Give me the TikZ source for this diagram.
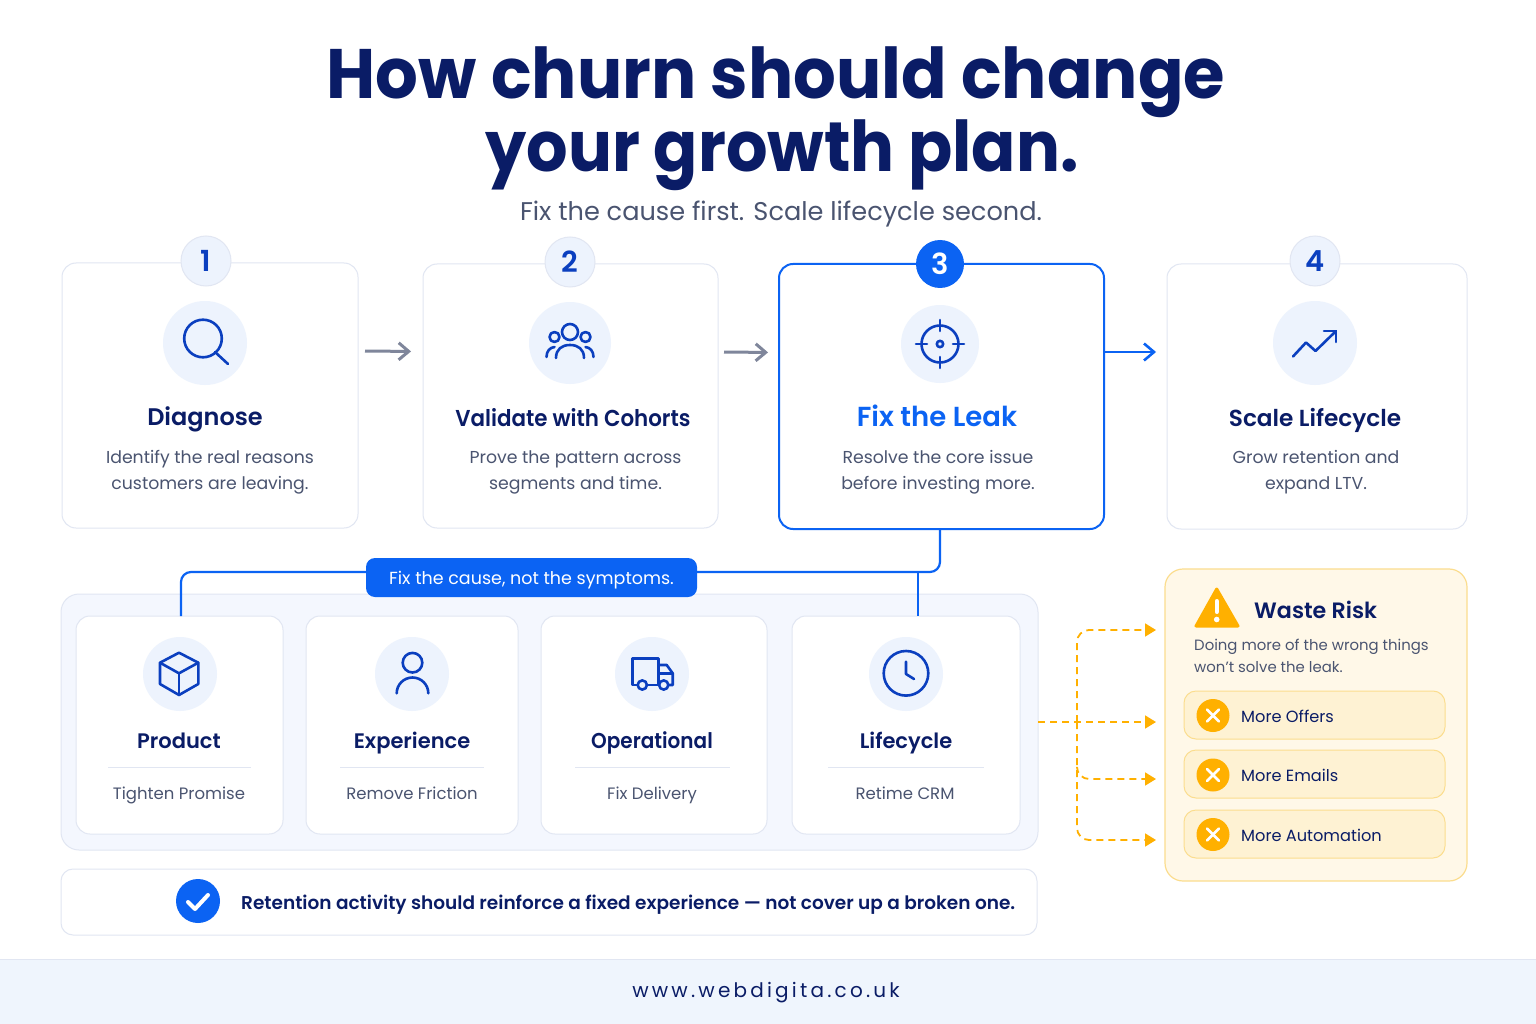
\documentclass[tikz,border=0pt]{standalone}
\usepackage{fontspec}
\setmainfont{Poppins}
\newfontfamily\semifont{Poppins SemiBold}
\newfontfamily\narrowfont[FakeStretch=0.93]{Poppins SemiBold}
\newfontfamily\headfont[FakeStretch=0.96]{Poppins}
\newfontfamily\headtight[FakeStretch=0.932]{Poppins}
\usetikzlibrary{arrows.meta}
\definecolor{navy}{HTML}{0A1C66}
\definecolor{ink}{HTML}{4A5470}
\definecolor{brand}{HTML}{0B63F3}
\definecolor{iconblue}{HTML}{0B3FBF}
\definecolor{mist}{HTML}{EDF3FD}
\definecolor{edge}{HTML}{E1E6F2}
\definecolor{panelfill}{HTML}{F4F7FE}
\definecolor{amber}{HTML}{FFB000}
\definecolor{cream}{HTML}{FFF8E8}
\definecolor{butter}{HTML}{FEF2D3}
\definecolor{sand}{HTML}{FBDD8E}
\definecolor{footfill}{HTML}{EFF5FD}
\definecolor{grayarrow}{HTML}{7F869B}

\begin{document}
\begin{tikzpicture}[x=1pt, y=-1pt,
  card/.style = {draw=edge, fill=white, line width=1pt, rounded corners=14pt, inner sep=0pt, outer sep=0pt},
  hotcard/.style = {draw=brand, fill=white, line width=2pt, rounded corners=14pt, inner sep=0pt, outer sep=0pt},
  numdot/.style = {shape=circle, draw=edge, fill=mist, line width=1pt, minimum size=50pt, inner sep=0pt, text=iconblue, font=\fontsize{29}{29}\semifont},
  hotdot/.style = {shape=circle, fill=brand, minimum size=48pt, inner sep=0pt, text=white, font=\fontsize{29}{29}\semifont},
  halo/.style = {shape=circle, fill=mist, inner sep=0pt},
  headline/.style = {anchor=mid, text=navy, font=\fontsize{70}{70}\headfont\bfseries},
  steptitle/.style = {anchor=mid, text=navy, font=\fontsize{24}{24}\semifont},
  stepdesc/.style = {align=center, text=ink, inner sep=0pt, font=\fontsize{17.3}{26}\selectfont},
  subtitle/.style = {anchor=mid, text=navy, font=\fontsize{21}{21}\semifont},
  subdesc/.style = {anchor=mid, text=ink, font=\fontsize{16.5}{16.5}\selectfont},
  rule/.style = {draw=edge, line width=1pt},
  glyph/.style = {draw=iconblue, line width=2.6pt, line cap=round, line join=round},
  wire/.style = {draw=brand, line width=2.2pt},
  flow/.style = {line width=3pt, -{Straight Barb[length=10pt,width=17pt]}},
  risk/.style = {draw=amber, line width=1.8pt, dash pattern=on 7pt off 5pt, -{Triangle[length=11pt,width=13pt]}},
  riskrow/.style = {draw=sand, fill=butter, line width=1pt, rounded corners=12pt, minimum width=261pt, minimum height=48pt, inner sep=0pt, outer sep=0pt},
  crossdot/.style = {shape=circle, fill=amber, minimum size=33pt, inner sep=0pt},
  crossmark/.style = {draw=white, line width=2.6pt, line cap=round},
  rowtext/.style = {anchor=mid west, text=navy, inner sep=0pt, font=\fontsize{16.2}{16.2}\selectfont}]

  \useasboundingbox (0,0) rectangle (1536,1024);
  \fill[white] (0,0) rectangle (1536,1024);

  % heading
  \node[headline] (headone) at (776,96) {How churn should change};
  \node[headline, font=\fontsize{70}{70}\headtight\bfseries] (headtwo) at (782,169) {your growth plan.};
  \node[anchor=mid, text=ink, font=\fontsize{25.6}{25.6}\selectfont] (tagline) at (781,218) {Fix the cause first. Scale lifecycle second.};

  % the four steps
  \node[card, minimum width=296pt, minimum height=265pt] (diagnose) at (210,395.5) {};
  \node[card, minimum width=295pt, minimum height=264pt] (validate) at (570.5,396) {};
  \node[hotcard, minimum width=325pt, minimum height=265pt] (fixleak) at (941.5,396.5) {};
  \node[card, minimum width=300pt, minimum height=265pt] (scale) at (1317,396.5) {};

  \node[numdot] (one) at (206,261) {1};
  \node[numdot] (two) at (570,262) {2};
  \node[hotdot] (three) at (940,264) {3};
  \node[numdot] (four) at (1315,261) {4};

  \node[halo, minimum size=84pt] (lens) at (205,343) {};
  \node[halo, minimum size=82pt] (crowd) at (570,343) {};
  \node[halo, minimum size=78pt] (aim) at (940,344) {};
  \node[halo, minimum size=84pt] (trend) at (1315,343) {};

  \draw[glyph] (203,338.5) circle (18.8);
  \draw[glyph] (215,352) -- (228,364);

  \draw[glyph] (570,332) circle (8);
  \draw[glyph] (554.5,337) circle (5);
  \draw[glyph] (585.5,337) circle (5);
  \draw[glyph] (556,358) .. controls (556,349) and (562,345) .. (570,345) .. controls (578,345) and (584,349) .. (584,358);
  \draw[glyph] (546.5,357) .. controls (546.5,351) and (550,347.5) .. (554.5,347);
  \draw[glyph] (593.5,357) .. controls (593.5,351) and (590,347.5) .. (585.5,347);

  \draw[glyph] (940,344) circle (18.5);
  \draw[glyph] (940,344) circle (3.2);
  \draw[glyph] (940,320) -- (940,331);
  \draw[glyph] (940,357) -- (940,368);
  \draw[glyph] (916,344) -- (927,344);
  \draw[glyph] (953,344) -- (964,344);

  \draw[glyph] (1293,356.5) -- (1306,342.5) -- (1315.5,351) -- (1336,331);
  \draw[glyph] (1324,331) -- (1336,331) -- (1336,342);

  \node[steptitle] (diagnosetitle) at (205,423) {Diagnose};
  \node[steptitle, font=\fontsize{23}{23}\narrowfont] (validatetitle) at (573,424) {Validate with Cohorts};
  \node[steptitle, text=brand, font=\fontsize{27.5}{27.5}\semifont] (fixleaktitle) at (937,424) {Fix the Leak};
  \node[steptitle, font=\fontsize{23.2}{23.2}\semifont] (scaletitle) at (1315,424) {Scale Lifecycle};

  \node[stepdesc] (diagnosedesc) at (210,472) {Identify the real reasons\\customers are leaving.};
  \node[stepdesc] (validatedesc) at (575.5,472) {Prove the pattern across\\segments and time.};
  \node[stepdesc] (fixleakdesc) at (938,472) {Resolve the core issue\\before investing more.};
  \node[stepdesc] (scaledesc) at (1316,472) {Grow retention and\\expand LTV.};

  \draw[flow, grayarrow, shorten <=7pt, shorten >=12pt] ([yshift=44.5pt]diagnose.east) -- ([yshift=44.5pt]validate.west);
  \draw[flow, grayarrow, shorten <=6pt, shorten >=11pt] ([yshift=44pt]validate.east) -- ([yshift=44pt]fixleak.west);
  \draw[flow, brand, line width=2.6pt, shorten >=11pt] ([yshift=44.5pt]fixleak.east) -- ([yshift=44.5pt]scale.west);

  % causes panel
  \node[draw=edge, fill=panelfill, line width=1pt, rounded corners=18pt, minimum width=977pt, minimum height=256pt, inner sep=0pt, outer sep=0pt] (panel) at (549.5,722) {};
  \node[card, minimum width=207pt, minimum height=218pt] (product) at (179.5,725) {};
  \node[card, minimum width=212pt, minimum height=218pt] (experience) at (412,725) {};
  \node[card, minimum width=226pt, minimum height=218pt] (operational) at (654,725) {};
  \node[card, minimum width=228pt, minimum height=218pt] (lifecycle) at (906,725) {};

  \node[halo, minimum size=74pt] (boxhalo) at (180,674) {};
  \node[halo, minimum size=74pt] (userhalo) at (412,674) {};
  \node[halo, minimum size=74pt] (truckhalo) at (652,674) {};
  \node[halo, minimum size=74pt] (clockhalo) at (906,674) {};

  \draw[glyph] (179,652.7) -- (198.3,662.7) -- (198.3,684) -- (179,695) -- (160,684) -- (160,662.7) -- cycle;
  \draw[glyph] (160,662.7) -- (179,673.3) -- (198.3,662.7);
  \draw[glyph] (179,673.3) -- (179,695);

  \draw[glyph] (412.5,662.7) circle (9.8);
  \draw[glyph] (396.7,693.3) arc[start angle=180, end angle=360, radius=15.8];

  \draw[glyph] (637.5,685) -- (632.3,685) -- (632.3,658.3) -- (658.3,658.3) -- (658.3,685) -- (647,685);
  \draw[glyph] (658.3,665) -- (666.7,665) -- (672.7,673.3) -- (672.7,685) -- (668.5,685);
  \draw[glyph] (660,673.3) -- (672.7,673.3);
  \draw[glyph] (647,685) -- (659,685);
  \draw[glyph] (642.3,685) circle (4.6);
  \draw[glyph] (663.7,685) circle (4.6);

  \draw[glyph] (906,673.3) circle (22.3);
  \draw[glyph] (906,661.7) -- (906,674) -- (914,679);

  \node[subtitle] (producttitle) at (179,746) {Product};
  \node[subtitle] (experiencetitle) at (412,746) {Experience};
  \node[subtitle, font=\fontsize{21.5}{21.5}\narrowfont] (operationaltitle) at (652,746) {Operational};
  \node[subtitle] (lifecycletitle) at (906,746) {Lifecycle};

  \draw[rule] (108,767.5) -- (251,767.5);
  \draw[rule] (340,767.5) -- (484,767.5);
  \draw[rule] (575,767.5) -- (730,767.5);
  \draw[rule] (828,767.5) -- (984,767.5);

  \node[subdesc] (productdesc) at (179,797) {Tighten Promise};
  \node[subdesc] (experiencedesc) at (412,797) {Remove Friction};
  \node[subdesc] (operationaldesc) at (652,797) {Fix Delivery};
  \node[subdesc] (lifecycledesc) at (905,797) {Retime CRM};

  % pill and its wires
  \node[fill=brand, rounded corners=9pt, minimum width=331pt, minimum height=39pt, inner sep=0pt, outer sep=0pt, text=white, font=\fontsize{17.5}{17.5}\selectfont] (pill) at (531.5,577.5) {\rule{0pt}{19pt}Fix the cause, not the symptoms.};
  \coordinate (joint) at (918,572);
  \draw[wire, rounded corners=10pt] ([xshift=-1.5pt]fixleak.south) |- ([yshift=5.5pt]pill.east);
  \draw[wire, rounded corners=10pt] ([yshift=5.5pt]pill.west) -| ([xshift=1.5pt]product.north);
  \draw[wire] (joint) -- (joint |- lifecycle.north);

  % bottom note
  \node[card, rounded corners=12pt, minimum width=976pt, minimum height=66pt] (note) at (549,902) {};
  \node[shape=circle, fill=brand, minimum size=44pt, inner sep=0pt] (tick) at (198,901) {};
  \draw[line width=4pt, draw=white, line cap=round, line join=round] (188,902) -- (195,909) -- (208,895);
  \node[anchor=mid west, inner sep=0pt, text=navy, font=\fontsize{18.5}{18.5}\semifont] (notetext) at (241,907) {Retention activity should reinforce a fixed experience — not cover up a broken one.};

  % waste risk
  \node[draw=sand, fill=cream, line width=1.2pt, rounded corners=18pt, minimum width=302pt, minimum height=312pt, inner sep=0pt, outer sep=0pt] (waste) at (1316,725) {};
  \fill[amber, draw=amber, line width=3pt, line join=round] (1216.7,589) -- (1196,626) -- (1238,626) -- cycle;
  \draw[white, line width=4pt, line cap=round] (1216.7,601) -- (1216.7,612);
  \fill[white] (1216.7,619.5) circle (2.8);
  \node[anchor=mid west, inner sep=0pt, text=navy, font=\fontsize{22.2}{22.2}\semifont] (wastetitle) at (1254,616) {Waste Risk};
  \node[anchor=west, align=left, inner sep=0pt, text=ink, font=\fontsize{14.9}{22}\selectfont] (wastedesc) at (1194,656) {Doing more of the wrong things\\won't solve the leak.};

  \node[riskrow] (offers) at (1314.5,715) {};
  \node[riskrow] (emails) at (1314.5,774) {};
  \node[riskrow] (automation) at (1314.5,834) {};
  \node[crossdot] (crossa) at (1213,715.5) {};
  \node[crossdot] (crossb) at (1213,775) {};
  \node[crossdot] (crossc) at (1213,834.5) {};
  \draw[crossmark] (1207,709.5) -- (1219,721.5);
  \draw[crossmark] (1219,709.5) -- (1207,721.5);
  \draw[crossmark] (1207,769) -- (1219,781);
  \draw[crossmark] (1219,769) -- (1207,781);
  \draw[crossmark] (1207,828.5) -- (1219,840.5);
  \draw[crossmark] (1219,828.5) -- (1207,840.5);
  \node[rowtext] (offerstext) at (1241,719.5) {More Offers};
  \node[rowtext] (emailstext) at (1241,778.5) {More Emails};
  \node[rowtext] (automationtext) at (1241,838.5) {More Automation};

  % dashed fan into the risk box
  \coordinate (fork) at (1077,722);
  \coordinate (bend) at (1077,768);
  \coordinate (tipa) at (1156,630);
  \coordinate (tipb) at (1156,722);
  \coordinate (tipc) at (1156,779);
  \coordinate (tipd) at (1156,840);
  \draw[risk] (panel.east) -- (tipb);
  \draw[risk, rounded corners=12pt] (fork) |- (tipa);
  \draw[risk, rounded corners=12pt] (fork) |- (tipd);
  \draw[risk, rounded corners=12pt] (bend) |- (tipc);

  % footer
  \node[fill=footfill, minimum width=1536pt, minimum height=65pt, inner sep=0pt, outer sep=0pt] (footer) at (768,991.5) {};
  \draw[draw=edge, line width=1pt] (footer.north west) -- (footer.north east);
  \node[anchor=mid, text=navy, font=\fontsize{20}{20}\selectfont\addfontfeature{LetterSpace=16}] (site) at (766,995) {www.webdigita.co.uk};
\end{tikzpicture}
\end{document}
